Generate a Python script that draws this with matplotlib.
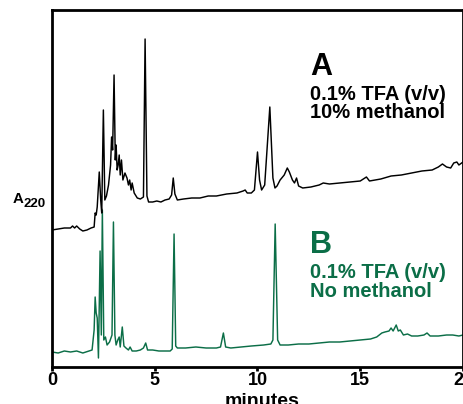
import matplotlib
matplotlib.use("Agg")
import matplotlib.pyplot as plt

# Chromatogram A: 0.1% TFA (v/v) with 10% methanol (time in min, signal in arbitrary units)
a_time = [0.0, 0.3, 0.6, 0.9, 1.0, 1.1, 1.2, 1.35, 1.5, 1.7, 1.9, 2.05, 2.1, 2.15, 2.2,
          2.3, 2.37, 2.42, 2.5, 2.57, 2.65, 2.75, 2.85, 2.9, 2.95, 3.02, 3.08, 3.12,
          3.17, 3.22, 3.27, 3.32, 3.38, 3.45, 3.55, 3.65, 3.72, 3.78, 3.85, 3.9, 4.0,
          4.15, 4.3, 4.45, 4.53, 4.62, 4.7, 4.9, 5.1, 5.3, 5.5, 5.7, 5.82, 5.9, 5.98,
          6.1, 6.4, 6.8, 7.2, 7.6, 8.0, 8.5, 9.0, 9.3, 9.4, 9.5, 9.7, 9.85, 10.0, 10.1,
          10.2, 10.35, 10.6, 10.75, 10.85, 10.95, 11.1, 11.3, 11.45, 11.55, 11.7, 11.8,
          11.9, 12.0, 12.2, 12.6, 13.0, 13.2, 13.5, 14.0, 14.5, 15.0, 15.3, 15.45, 16.0,
          16.5, 17.0, 17.5, 18.0, 18.5, 18.8, 19.0, 19.2, 19.4, 19.55, 19.7, 19.8, 20.0]
a_signal = [137, 138, 139, 139, 141, 139, 141, 138, 136, 137, 139, 140, 154, 152, 160,
            195, 167, 154, 257, 167, 171, 182, 202, 230, 217, 292, 207, 222,
            197, 202, 212, 192, 207, 187, 194, 189, 182, 187, 177, 184, 174,
            169, 168, 170, 328, 171, 165, 165, 166, 165, 167, 168, 172, 189, 173,
            167, 168, 169, 169, 171, 171, 173, 174, 176, 177, 174, 174, 177, 215, 187,
            177, 182, 260, 189, 179, 181, 187, 192, 199, 195, 187, 184,
            189, 181, 179, 180, 182, 184, 183, 184, 185, 186, 190, 186, 188,
            191, 192, 194, 196, 197, 200, 203, 200, 199, 204, 205, 202, 205]

# Chromatogram B: 0.1% TFA (v/v), no methanol
b_time = [0.0, 0.3, 0.6, 0.9, 1.2, 1.5, 1.8, 1.95, 2.05, 2.1, 2.15, 2.2, 2.26, 2.34, 2.4,
          2.45, 2.52, 2.6, 2.68, 2.8, 2.92, 2.99, 3.06, 3.12, 3.2, 3.27, 3.32, 3.42,
          3.5, 3.6, 3.72, 3.8, 3.9, 4.1, 4.3, 4.45, 4.56, 4.65, 4.9, 5.2, 5.5, 5.75,
          5.85, 5.94, 6.02, 6.1, 6.5, 7.0, 7.5, 8.0, 8.2, 8.34, 8.45, 8.7, 9.2, 9.7,
          10.3, 10.65, 10.75, 10.86, 10.98, 11.1, 11.5, 12.0, 12.5, 13.0, 13.5, 14.0,
          14.5, 15.0, 15.5, 15.8, 16.05, 16.2, 16.4, 16.5, 16.6, 16.75, 16.85, 16.95,
          17.1, 17.3, 17.5, 17.8, 18.1, 18.25, 18.4, 18.8, 19.2, 19.5, 19.8, 20.0]
b_signal = [15, 14, 16, 15, 16, 14, 16, 17, 37, 70, 54, 49, 9, 116, 32,
            157, 27, 30, 22, 25, 32, 145, 32, 22, 27, 30, 20, 40,
            21, 19, 17, 20, 16, 16, 17, 19, 24, 17, 17, 16, 16, 16,
            18, 133, 21, 19, 19, 20, 19, 19, 20, 34, 20, 19, 20, 21,
            22, 23, 27, 143, 27, 22, 22, 23, 23, 24, 25, 25,
            26, 27, 28, 30, 34, 35, 36, 39, 36, 42, 36, 37,
            32, 33, 31, 31, 32, 34, 31, 31, 32, 32, 31, 32]

ticks = [0, 5, 10, 15, 20]
green = "#0b6e47"
font = "Liberation Sans"

W, H = 464, 404
fig = plt.figure(figsize=(W / 100, H / 100), dpi=100)
ax = fig.add_axes([52 / W, 1 - 367 / H, (463 - 52) / W, (367 - 10) / H])

ax.plot(b_time, b_signal, color=green, lw=1.05, zorder=2)
ax.plot(a_time, a_signal, color="black", lw=1.05, zorder=3)

ax.set_xlim(0, 20)
ax.set_ylim(0, 357)
ax.set_yticks([])
ax.set_xticks(ticks)
ax.set_xticklabels([str(t) for t in ticks], fontfamily=font, fontweight="bold", fontsize=13)
ax.tick_params(axis="x", direction="out", length=3, width=2, pad=0.5)
for side in ["left", "bottom", "top", "right"]:
    ax.spines[side].set_linewidth(2)

ax.set_xlabel("minutes", fontfamily=font, fontweight="bold", fontsize=14)
ax.xaxis.set_label_coords(0.51, -0.072)

# Condition annotations
tx = 12.55
ax.text(tx, 367 - 75, "A", fontfamily=font, fontweight="bold", fontsize=22, va="baseline")
ax.text(tx, 367 - 100, "0.1% TFA (v/v)", fontfamily=font, fontweight="bold", fontsize=14.5, va="baseline")
ax.text(tx, 367 - 118, "10% methanol", fontfamily=font, fontweight="bold", fontsize=14.5, va="baseline")
ax.text(tx, 367 - 253, "B", fontfamily=font, fontweight="bold", fontsize=22, va="baseline", color=green)
ax.text(tx, 367 - 278, "0.1% TFA (v/v)", fontfamily=font, fontweight="bold", fontsize=14.5, va="baseline", color=green)
ax.text(tx, 367 - 297, "No methanol", fontfamily=font, fontweight="bold", fontsize=14.5, va="baseline", color=green)

# Y-axis label A220
fig.text(12.7 / W, 1 - 203 / H, "A", fontfamily=font, fontweight="bold", fontsize=10.8, va="baseline")
fig.text(24 / W, 1 - 207 / H, "220", fontfamily=font, fontweight="bold", fontsize=9.5, va="baseline")

fig.savefig("out.png", dpi=100)
